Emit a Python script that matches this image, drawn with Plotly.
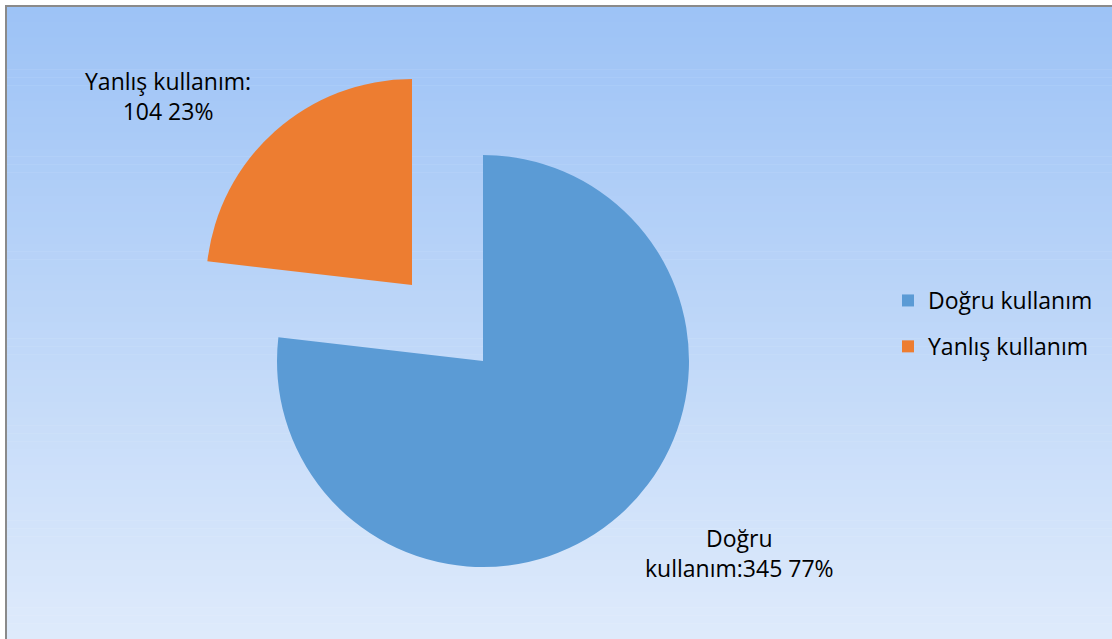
import plotly.graph_objects as go

# ---- data ----
categories = ["Doğru kullanım", "Yanlış kullanım"]
counts = [345, 104]
colors = ["#5B9BD5", "#ED7D31"]
label_templates = ["Doğru<br>kullanım:{v} {p}%", "Yanlış kullanım:<br>{v} {p}%"]

# ---- layout constants (pixels) ----
W, H = 1112, 639
R = 206
main_center = (483, 361)
pulled_center = (412, 285)
label_pos = [(739, 553), (168, 96)]
FONT = "Open Sans"
TRANSPARENT = "rgba(0,0,0,0)"


def px_x(x):
    return x / W


def px_y(y):
    return 1 - y / H


def domain(c, r):
    cx, cy = c
    return dict(x=[px_x(cx - r), px_x(cx + r)], y=[px_y(cy + r), px_y(cy - r)])


total = sum(counts)
pcts = [round(v / total * 100) for v in counts]

fig = go.Figure()

# main (blue) slice, with the pulled-out slice left empty
fig.add_trace(go.Pie(
    labels=[categories[0], " "], values=counts,
    marker=dict(colors=[colors[0], TRANSPARENT], line=dict(width=0)),
    sort=False, direction="clockwise", rotation=0,
    textinfo="none", hoverinfo="none",
    domain=domain(main_center, R), legend="legend", showlegend=True,
))
# pulled-out (orange) slice
fig.add_trace(go.Pie(
    labels=["  ", categories[1]], values=counts,
    marker=dict(colors=[TRANSPARENT, colors[1]], line=dict(width=0)),
    sort=False, direction="clockwise", rotation=0,
    textinfo="none", hoverinfo="none",
    domain=domain(pulled_center, R), legend="legend2", showlegend=True,
))

# data labels
for tpl, v, p, (lx, ly) in zip(label_templates, counts, pcts, label_pos):
    fig.add_annotation(
        x=px_x(lx), y=px_y(ly), xref="paper", yref="paper",
        text=tpl.format(v=v, p=p), showarrow=False, align="center",
        xanchor="center", yanchor="middle",
        font=dict(family=FONT, size=23, color="#000000"),
    )

# background gradient + frame
top = (157, 195, 246)
bot = (222, 234, 251)
N = 80
shapes = []
y_start = 6
for i in range(N):
    t = i / (N - 1)
    col = tuple(round(a + (b - a) * t) for a, b in zip(top, bot))
    y0 = y_start + (H - y_start) * i / N
    y1 = y_start + (H - y_start) * (i + 1) / N + 0.5
    shapes.append(dict(type="rect", xref="paper", yref="paper",
                       x0=px_x(6), x1=1, y0=px_y(min(y1, H)), y1=px_y(y0),
                       fillcolor="rgb(%d,%d,%d)" % col, line=dict(width=0), layer="below"))
shapes.append(dict(type="line", xref="paper", yref="paper", x0=px_x(6), x1=px_x(6),
                   y0=0, y1=px_y(5), line=dict(color="#8a8a8a", width=2), layer="below"))
shapes.append(dict(type="line", xref="paper", yref="paper", x0=px_x(5), x1=1,
                   y0=px_y(6), y1=px_y(6), line=dict(color="#8a8a8a", width=2), layer="below"))

legend_style = dict(bgcolor=TRANSPARENT, borderwidth=0, xanchor="left", yanchor="top",
                    font=dict(family=FONT, size=23, color="#000000"),
                    itemclick=False, itemdoubleclick=False)

fig.update_layout(
    width=W, height=H, autosize=False,
    margin=dict(l=0, r=0, t=0, b=0),
    paper_bgcolor="white", plot_bgcolor="white",
    shapes=shapes,
    legend=dict(x=px_x(888), y=px_y(279), **legend_style),
    legend2=dict(x=px_x(888), y=px_y(292), **legend_style),
)

fig.write_html("out.html", config={"displayModeBar": False},
               post_script="document.body.style.margin='0';")
